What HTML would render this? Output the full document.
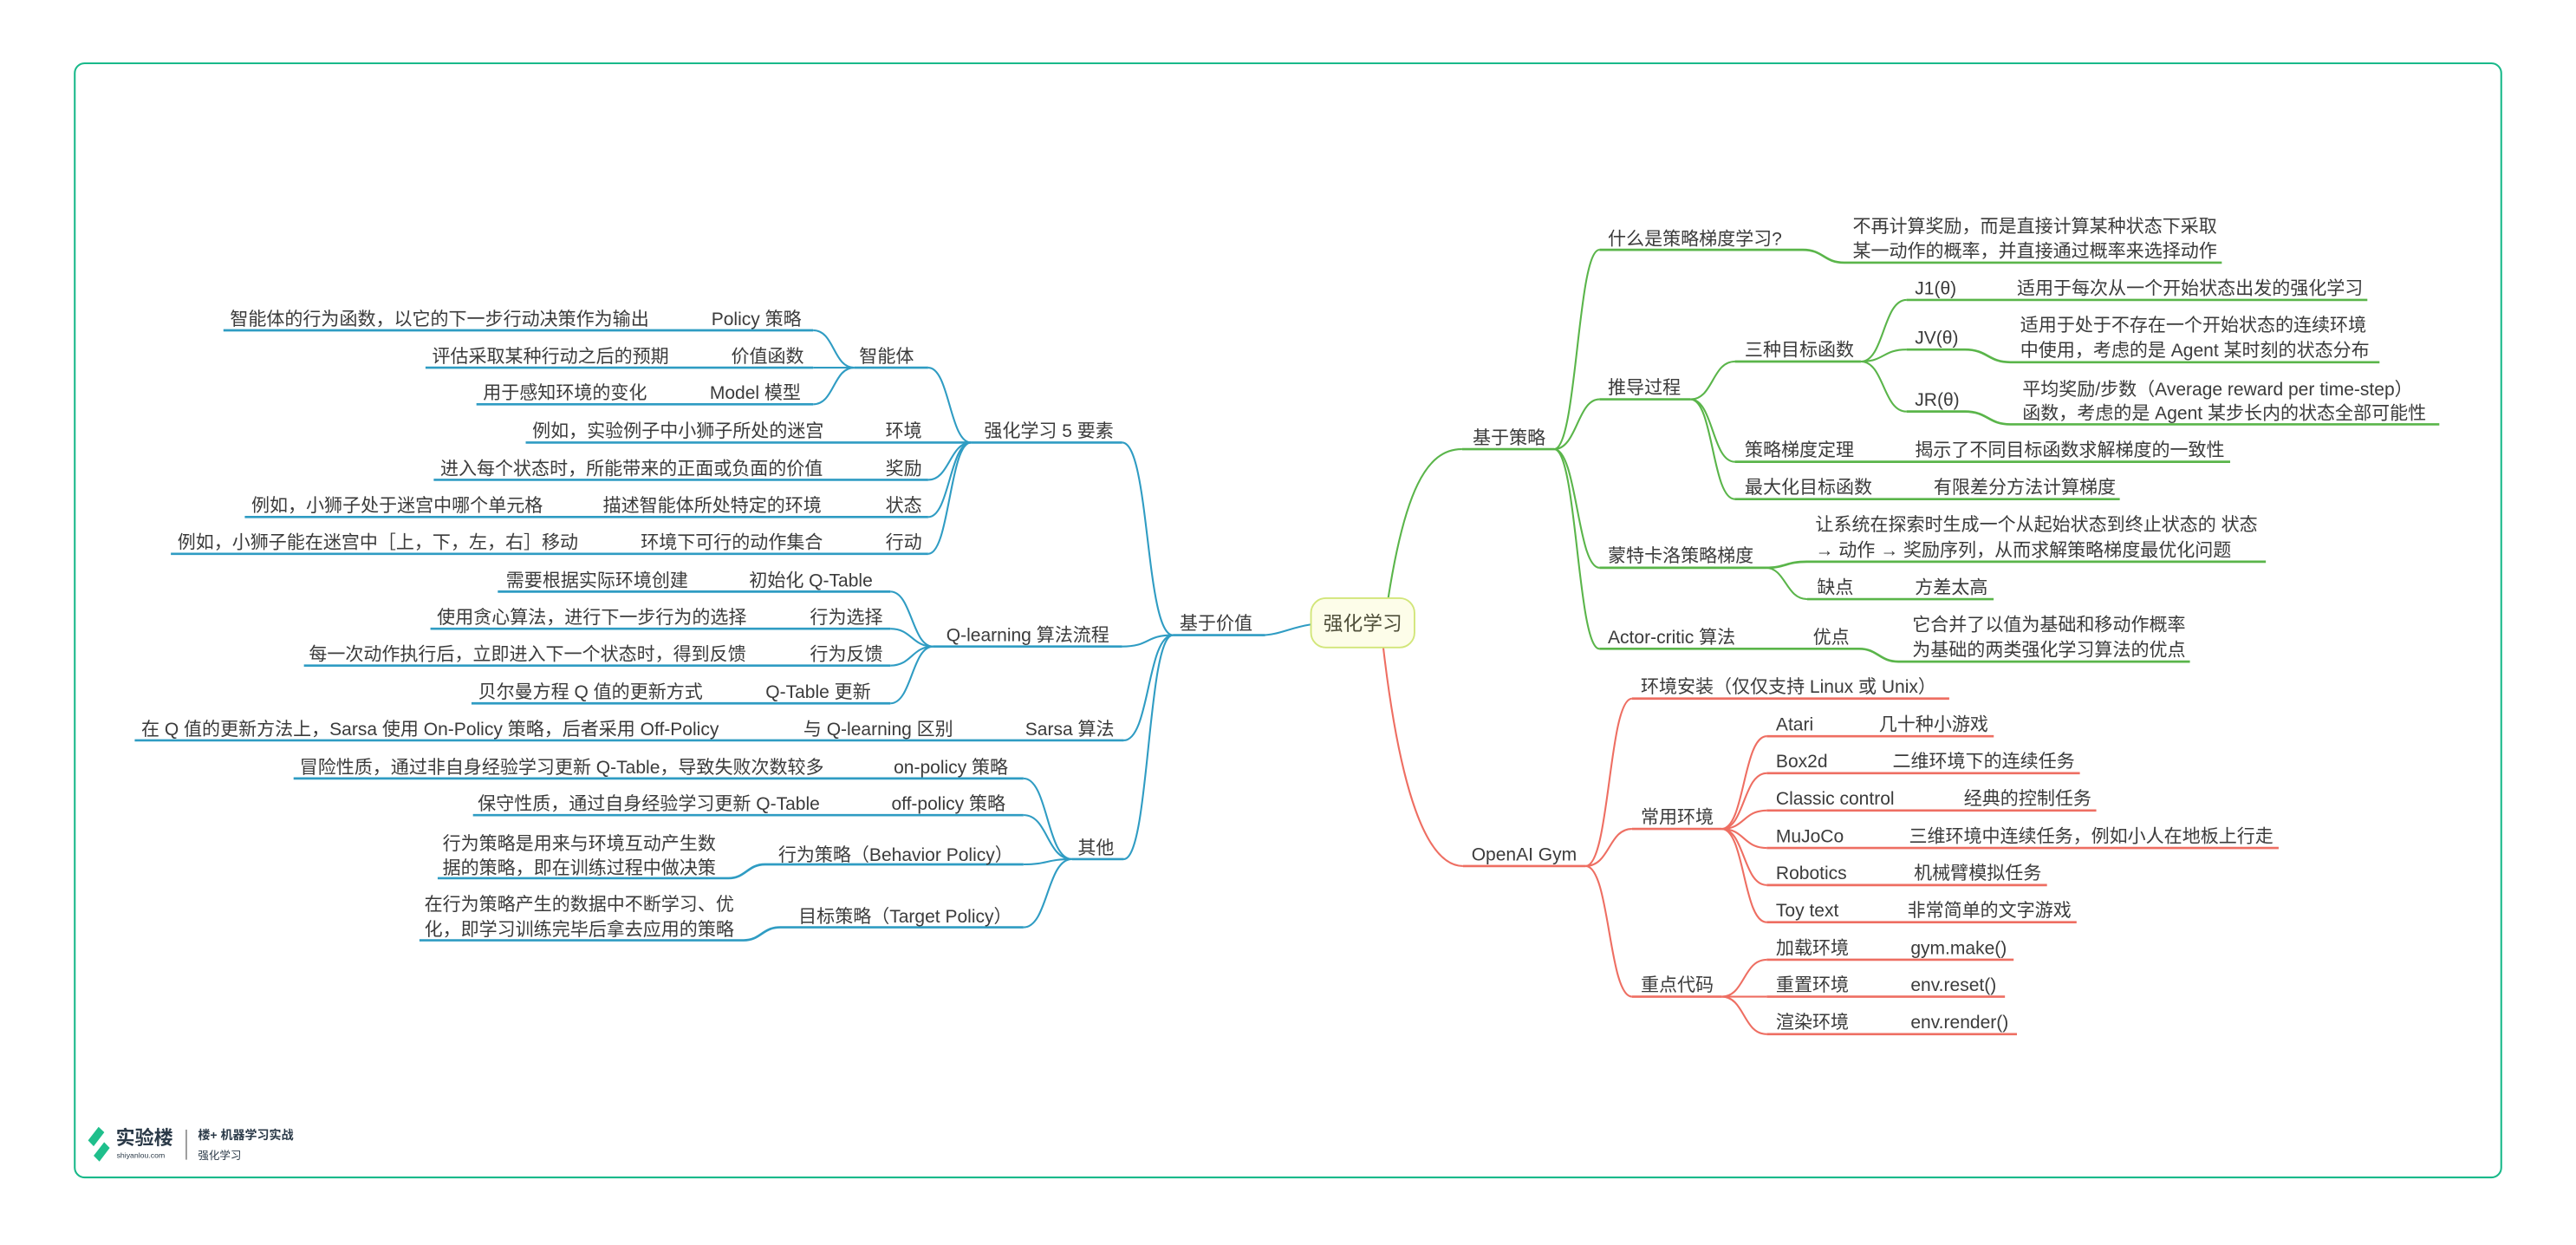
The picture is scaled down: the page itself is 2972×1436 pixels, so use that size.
<!DOCTYPE html>
<html><head><meta charset="utf-8"><style>
html,body{margin:0;padding:0;background:#fff;}
svg{display:block;}
text{font-family:"Liberation Sans","Noto Sans CJK SC",sans-serif;font-size:11.1px;fill:#3b3b3b;}
.b{fill:none;stroke:#2f9cc3;stroke-width:1.1;}
.bu{fill:none;stroke:#2f9cc3;stroke-width:1.4;}
.g{fill:none;stroke:#5ab54a;stroke-width:1.1;}
.gu{fill:none;stroke:#5ab54a;stroke-width:1.4;}
.r{fill:none;stroke:#ee6e62;stroke-width:1.1;}
.ru{fill:none;stroke:#ee6e62;stroke-width:1.4;}
</style></head><body>
<svg width="2972" height="1436" viewBox="0 0 1568 757.6" xmlns="http://www.w3.org/2000/svg">
<rect x="45.5" y="38.5" width="1477" height="678" rx="6" fill="#fff" stroke="#19b98a" stroke-width="1.1"/>

<!-- center node -->
<path class="b" d="M798 380 C785 382,778 386.5,768 386.5"/>
<path class="g" d="M845 364 C855 300,868 273,890 273.3"/>
<path class="r" d="M842 394 C852 480,868 527,890.5 527"/>
<rect x="798" y="364" width="63" height="30" rx="9" fill="#fdfde9" stroke="#d2e67a" stroke-width="1"/>
<text x="829.5" y="383.5" text-anchor="middle" style="font-size:12px;fill:#4f4f3a">强化学习</text>

<!-- ===== BLUE (left) ===== -->
<path class="bu" d="M714 386.5 H770"/>
<text x="718" y="383">基于价值</text>
<!-- level2 connections -->
<path class="b" d="M683 269.3 C700 269.3,697 386.5,714 386.5"/>
<path class="b" d="M683 393.4 C700 393.4,697 386.5,714 386.5"/>
<path class="b" d="M684 450.5 C700 450.5,698 386.5,714 386.5"/>
<path class="b" d="M684 522.8 C700 522.8,698 386.5,714 386.5"/>
<!-- 5要素 -->
<path class="bu" d="M591 269.3 H683"/>
<text x="599" y="266">强化学习 5 要素</text>
<path class="bu" d="M520 223.7 H565"/>
<text x="523" y="220.5">智能体</text>
<path class="b" d="M565 223.7 C578 223.7,578 269.3,591 269.3"/>
<path class="b" d="M565 292 C578 292,578 269.3,591 269.3"/>
<path class="b" d="M565 314.6 C578 314.6,578 269.3,591 269.3"/>
<path class="b" d="M565 337 C578 337,578 269.3,591 269.3"/>
<path class="bu" d="M136 201 H495"/>
<path class="bu" d="M259 223.7 H495"/>
<path class="bu" d="M290 246 H495"/>
<path class="b" d="M495 201 C508 201,507 223.7,520 223.7"/>
<path class="b" d="M495 223.7 H520"/>
<path class="b" d="M495 246 C508 246,507 223.7,520 223.7"/>
<text x="140" y="197.8">智能体的行为函数，以它的下一步行动决策作为输出</text><text x="433" y="197.8">Policy 策略</text>
<text x="263" y="220.5">评估采取某种行动之后的预期</text><text x="445" y="220.5">价值函数</text>
<text x="294" y="242.8">用于感知环境的变化</text><text x="432" y="242.8">Model 模型</text>
<path class="bu" d="M320 269.3 H591"/>
<text x="324" y="266">例如，实验例子中小狮子所处的迷宫</text><text x="539" y="266">环境</text>
<path class="bu" d="M264 292 H565"/>
<text x="268" y="288.8">进入每个状态时，所能带来的正面或负面的价值</text><text x="539" y="288.8">奖励</text>
<path class="bu" d="M149 314.6 H565"/>
<text x="153" y="311.4">例如，小狮子处于迷宫中哪个单元格</text><text x="367" y="311.4">描述智能体所处特定的环境</text><text x="539" y="311.4">状态</text>
<path class="bu" d="M104 337 H565"/>
<text x="108" y="333.8">例如，小狮子能在迷宫中［上，下，左，右］移动</text><text x="390" y="333.8">环境下可行的动作集合</text><text x="539" y="333.8">行动</text>
<!-- Q-learning -->
<path class="bu" d="M568 393.4 H683"/>
<text x="576" y="390.2">Q-learning 算法流程</text>
<path class="b" d="M542 360 C555 360,555 393.4,568 393.4"/>
<path class="b" d="M542 382.6 C555 382.6,555 393.4,568 393.4"/>
<path class="b" d="M542 405 C555 405,555 393.4,568 393.4"/>
<path class="b" d="M542 428 C555 428,555 393.4,568 393.4"/>
<path class="bu" d="M303 360 H542"/>
<text x="308" y="356.8">需要根据实际环境创建</text><text x="456" y="356.8">初始化 Q-Table</text>
<path class="bu" d="M262 382.6 H542"/>
<text x="266" y="379.4">使用贪心算法，进行下一步行为的选择</text><text x="493" y="379.4">行为选择</text>
<path class="bu" d="M185 405 H542"/>
<text x="188" y="401.8">每一次动作执行后，立即进入下一个状态时，得到反馈</text><text x="493" y="401.8">行为反馈</text>
<path class="bu" d="M287 428 H542"/>
<text x="291" y="424.8">贝尔曼方程 Q 值的更新方式</text><text x="466" y="424.8">Q-Table 更新</text>
<!-- Sarsa -->
<path class="bu" d="M82 450.5 H684"/>
<text x="86" y="447.3">在 Q 值的更新方法上，Sarsa 使用 On-Policy 策略，后者采用 Off-Policy</text><text x="489" y="447.3">与 Q-learning 区别</text><text x="624" y="447.3">Sarsa 算法</text>
<!-- 其他 -->
<path class="bu" d="M652.5 522.8 H684"/>
<text x="656" y="519.6">其他</text>
<path class="b" d="M623 473.7 C638 473.7,637 522.8,652.5 522.8"/>
<path class="b" d="M623 496 C638 496,637 522.8,652.5 522.8"/>
<path class="b" d="M623 526 C638 526,637 522.8,652.5 522.8"/>
<path class="b" d="M623 564.3 C638 564.3,637 522.8,652.5 522.8"/>
<path class="bu" d="M178.7 473.7 H623"/>
<text x="182.4" y="470.5">冒险性质，通过非自身经验学习更新 Q-Table，导致失败次数较多</text><text x="544" y="470.5">on-policy 策略</text>
<path class="bu" d="M287.9 496 H623"/>
<text x="290.8" y="492.8">保守性质，通过自身经验学习更新 Q-Table</text><text x="542.6" y="492.8">off-policy 策略</text>
<path class="bu" d="M266.4 534.4 H443.4 C454 534.4,455 526,465.6 526 H623"/>
<text x="269.4" y="516.9">行为策略是用来与环境互动产生数</text><text x="269.4" y="531.9">据的策略，即在训练过程中做决策</text>
<text x="473.7" y="524">行为策略（Behavior Policy）</text>
<path class="bu" d="M255.3 572.2 H452.6 C463 572.2,464 564.3,474.9 564.3 H623"/>
<text x="258.3" y="553.9">在行为策略产生的数据中不断学习、优</text><text x="258.3" y="569.3">化，即学习训练完毕后拿去应用的策略</text>
<text x="486" y="561.4">目标策略（Target Policy）</text>

<!-- ===== GREEN ===== -->
<path class="gu" d="M890 273.3 H946"/>
<text x="896.4" y="270">基于策略</text>
<path class="g" d="M946 273.3 C960 273.3,960 152,973.6 152"/>
<path class="g" d="M946 273.3 C960 273.3,960 243,973.6 243"/>
<path class="g" d="M946 273.3 C960 273.3,960 345.5,973.6 345.5"/>
<path class="g" d="M946 273.3 C960 273.3,960 394.8,973.6 394.8"/>
<path class="gu" d="M973.6 152 H1097.4 C1110 152,1110 159.8,1122.6 159.8 H1352.4"/>
<text x="978.7" y="149">什么是策略梯度学习?</text>
<text x="1127.7" y="141.4">不再计算奖励，而是直接计算某种状态下采取</text>
<text x="1127.7" y="156.3">某一动作的概率，并直接通过概率来选择动作</text>
<path class="gu" d="M973.6 243 H1029"/>
<text x="978.7" y="239.6">推导过程</text>
<path class="g" d="M1029 243 C1043 243,1042 220,1056 220"/>
<path class="g" d="M1029 243 C1043 243,1042 281,1056 281"/>
<path class="g" d="M1029 243 C1043 243,1042 303.7,1056 303.7"/>
<path class="gu" d="M1056 220 H1132.7"/>
<text x="1062" y="216.6">三种目标函数</text>
<path class="g" d="M1132.7 220 C1147 220,1146 182.5,1160.5 182.5"/>
<path class="g" d="M1132.7 220 C1147 220,1146 212.7,1160.5 212.7"/>
<path class="g" d="M1132.7 220 C1147 220,1146 250.4,1160.5 250.4"/>
<path class="gu" d="M1160.5 182.5 H1441"/>
<text x="1165.6" y="179">J1(θ)</text><text x="1227.7" y="179">适用于每次从一个开始状态出发的强化学习</text>
<path class="gu" d="M1160.5 212.7 H1196 C1210 212.7,1210 220.4,1223.7 220.4 H1448.4"/>
<text x="1165.6" y="209.2">JV(θ)</text>
<text x="1229.7" y="201.6">适用于处于不存在一个开始状态的连续环境</text>
<text x="1229.7" y="216.9">中使用，考虑的是 Agent 某时刻的状态分布</text>
<path class="gu" d="M1160.5 250.4 H1196 C1210 250.4,1210 258.2,1223.7 258.2 H1484.8"/>
<text x="1165.6" y="247">JR(θ)</text>
<text x="1231" y="240.6">平均奖励/步数（Average reward per time-step）</text>
<text x="1231" y="255.2">函数，考虑的是 Agent 某步长内的状态全部可能性</text>
<path class="gu" d="M1056 281 H1357.5"/>
<text x="1062" y="277.6">策略梯度定理</text><text x="1165.6" y="277.6">揭示了不同目标函数求解梯度的一致性</text>
<path class="gu" d="M1056 303.7 H1290.3"/>
<text x="1062" y="300.3">最大化目标函数</text><text x="1177" y="300.3">有限差分方法计算梯度</text>
<path class="gu" d="M973.6 345.5 H1074.7 C1087 345.5,1087 341.8,1099.9 341.8 H1379.2"/>
<text x="978.7" y="342">蒙特卡洛策略梯度</text>
<text x="1105" y="323">让系统在探索时生成一个从起始状态到终止状态的 状态</text>
<text x="1105" y="338.4">→ 动作 → 奖励序列，从而求解策略梯度最优化问题</text>
<path class="g" d="M1074.7 345.5 C1087 345.5,1087 364.6,1100 364.6"/>
<path class="gu" d="M1100 364.6 H1213.5"/>
<text x="1106" y="361.2">缺点</text><text x="1165.6" y="361.2">方差太高</text>
<path class="gu" d="M973.6 394.8 H1131.7 C1143 394.8,1144 402.6,1155.5 402.6 H1333"/>
<text x="978.7" y="391.5">Actor-critic 算法</text><text x="1103.5" y="391.5">优点</text>
<text x="1164" y="383.7">它合并了以值为基础和移动作概率</text>
<text x="1164" y="399">为基础的两类强化学习算法的优点</text>

<!-- ===== RED ===== -->
<path class="ru" d="M890.5 527 H965.2"/>
<text x="895.7" y="523.5">OpenAI Gym</text>
<path class="r" d="M965.2 527 C980 527,979 425.1,993.4 425.1"/>
<path class="r" d="M965.2 527 C980 527,979 504.4,993.4 504.4"/>
<path class="r" d="M965.2 527 C980 527,979 606.5,993.4 606.5"/>
<path class="ru" d="M993.4 425.1 H1186.5"/>
<text x="998.7" y="421.6">环境安装（仅仅支持 Linux 或 Unix）</text>
<path class="ru" d="M993.4 504.4 H1048"/>
<text x="998.7" y="501">常用环境</text>
<path class="r" d="M1048 504.4 C1062 504.4,1061 448,1075.4 448"/>
<path class="r" d="M1048 504.4 C1062 504.4,1061 470.5,1075.4 470.5"/>
<path class="r" d="M1048 504.4 C1062 504.4,1061 493.2,1075.4 493.2"/>
<path class="r" d="M1048 504.4 C1062 504.4,1061 516,1075.4 516"/>
<path class="r" d="M1048 504.4 C1062 504.4,1061 538.6,1075.4 538.6"/>
<path class="r" d="M1048 504.4 C1062 504.4,1061 561.2,1075.4 561.2"/>
<path class="ru" d="M1075.4 448 H1213.6"/><text x="1081" y="444.5">Atari</text><text x="1143.7" y="444.5">几十种小游戏</text>
<path class="ru" d="M1075.4 470.5 H1266"/><text x="1081" y="467">Box2d</text><text x="1152" y="467">二维环境下的连续任务</text>
<path class="ru" d="M1075.4 493.2 H1276"/><text x="1081" y="489.7">Classic control</text><text x="1195.4" y="489.7">经典的控制任务</text>
<path class="ru" d="M1075.4 516 H1387"/><text x="1081" y="512.5">MuJoCo</text><text x="1162" y="512.5">三维环境中连续任务，例如小人在地板上行走</text>
<path class="ru" d="M1075.4 538.6 H1246"/><text x="1081" y="535.1">Robotics</text><text x="1165" y="535.1">机械臂模拟任务</text>
<path class="ru" d="M1075.4 561.2 H1264"/><text x="1081" y="557.7">Toy text</text><text x="1161" y="557.7">非常简单的文字游戏</text>
<path class="ru" d="M993.4 606.5 H1048"/>
<text x="998.7" y="603">重点代码</text>
<path class="r" d="M1048 606.5 C1062 606.5,1061 584,1075.4 584"/>
<path class="r" d="M1048 606.5 H1075.4"/>
<path class="r" d="M1048 606.5 C1062 606.5,1061 629.3,1075.4 629.3"/>
<path class="ru" d="M1075.4 584 H1225.7"/><text x="1081" y="580.5">加载环境</text><text x="1163" y="580.5">gym.make()</text>
<path class="ru" d="M1075.4 606.5 H1220.4"/><text x="1081" y="603">重置环境</text><text x="1163" y="603">env.reset()</text>
<path class="ru" d="M1075.4 629.3 H1227.7"/><text x="1081" y="625.8">渲染环境</text><text x="1163" y="625.8">env.render()</text>

<!-- logo -->
<polygon points="60,685.7 63.5,689 57,697.5 53.6,694" fill="#1fbf8c"/>
<polygon points="63.4,695 66.8,698.5 60.5,706.8 57,703.3" fill="#1fbf8c"/>
<text x="70.5" y="696.5" style="font-size:11.6px;font-weight:bold;fill:#2b3a48">实验楼</text>
<text x="71" y="704.6" style="font-size:4.6px;fill:#2b3a48">shiyanlou.com</text>
<rect x="112.9" y="687.4" width="1" height="18.3" fill="#999"/>
<text x="120.5" y="693.2" style="font-size:7.4px;font-weight:bold;fill:#2b3a48">楼+ 机器学习实战</text>
<text x="120.5" y="705.3" style="font-size:6.6px;fill:#2b3a48">强化学习</text>
</svg>
</body></html>
